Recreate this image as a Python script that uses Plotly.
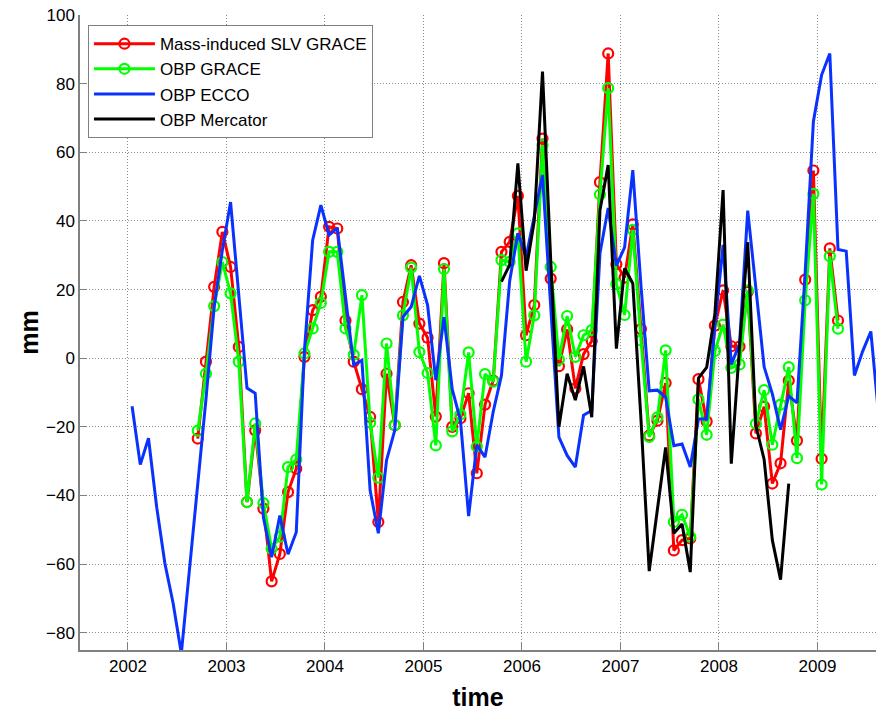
import plotly.graph_objects as go

# Monthly series (mm); month index 0 = Jan 2002, values at mid-month
ECCO_START = 0
obp_ecco = [
    -14, -31, -23.3, -43.4, -59.8, -71.4, -86, -62, -37, -12, 15, 31.5,
    45.5, 18, -8.7, -10.2, -46.4, -58, -45.8, -57.1, -50.7, 2.3, 34.4, 44.6,
    35.9, 37.9, 18, -2, -0.6, -38.5, -51, -29.7, -21, 12, 15, 24,
    15.5, -6.4, 12, -9, -18, -46, -25.2, -28.8, -15.5, -5, 22.5, 36.4,
    29.5, 42, 53.4, 15, -23, -28.3, -31.7, -16.6, -15.2, 30.6, 43.8, 27,
    32.3, 54.8, 21, -9.5, -9.3, -11.4, -25.5, -25, -31.7, -17.7, -17.7, 9.4,
    33, -1.8, 4.2, 43, 19.8, -2.5, -10.4, -20.8, -11, -13, 25, 69,
    82.5, 88.8, 31.7, 31.2, -5, 2, 7.8, -18,
]

GRACE_START = 8
slv_grace = [
    -23.4, -1, 20.8, 36.8,
    26.6, 3.3, -41.9, -21, -43.8, -65, -57, -39, -32.2, 0.4, 14, 17.9,
    38.3, 37.8, 11, -1, -9, -17.1, -47.7, -4.5, -19.5, 16.4, 27.1, 10.1,
    6, -17, 27.7, -20, -17.5, -10.2, -33.5, -13.5, -6.5, 31, 33.9, 47.3,
    6.7, 15.5, 64, 23.2, -2.3, 8.4, -8.8, 1.2, 5, 51.3, 88.8, 27.4,
    23.5, 39, 8.5, -22.5, -18.2, -7.2, -56, -53, -52.5, -6.1, -18.4, 9.5,
    19.8, 3.5, 3.4, 19.3, -21.9, -14.1, -36.5, -30.6, -6.5, -24, 22.9, 54.7,
    -29.3, 32, 11,
]
obp_grace = [
    -21.1, -4.5, 15.2, 28,
    18.9, -1, -41.9, -19, -42.2, -55.5, -52, -31.7, -29.5, 1.4, 8.7, 16.1,
    31, 31, 8.7, 1, 18.4, -18.8, -34.8, 4.3, -19.5, 12.5, 26.4, 1.8,
    -4.3, -25.4, 26, -21.3, -16.4, 1.7, -25.7, -4.6, -6.8, 28.6, 28.1, 36.4,
    -1, 12.5, 62.1, 26.6, -0.4, 12.3, 0.4, 6.7, 8.2, 47.7, 78.7, 21.6,
    12.6, 37.4, 5.2, -22.9, -17.2, 2.3, -47.7, -45.6, -52, -12, -22.3, 2.1,
    9.8, -2.8, -1.8, 19.8, -19.1, -9.3, -25.2, -13.5, -2.6, -29.1, 16.9, 47.9,
    -36.8, 29.7, 8.6,
]

MERCATOR_START = 45
obp_mercator = [
    22.3, 27.2, 56.8,
    25.5, 40, 83.5, 28.6, -20, -4.5, -12.2, -2.4, -17.2, 43.1, 56.3, 2.8,
    26.2, 21.8, -18, -62, -44, -26, -51, -48.3, -62.3, -5.8, -2.7, 13,
    49, -30.7, 3.2, 33.8, -19.7, -29.5, -53, -64.5, -36.5,
]

year_ticks = [2002, 2003, 2004, 2005, 2006, 2007, 2008, 2009]
mm_ticks = [-80, -60, -40, -20, 0, 20, 40, 60, 80, 100]


def months(start, values):
    return [2002 + (start + k + 0.5) / 12 for k in range(len(values))]


FONT = "Liberation Sans, Arial, Helvetica, sans-serif"
RED, GREEN, BLUE, BLACK = "#ff0000", "#00ff00", "#0a32ff", "#000000"

fig = go.Figure()
fig.add_trace(go.Scatter(
    x=months(GRACE_START, slv_grace), y=slv_grace, name="Mass-induced SLV GRACE",
    mode="lines+markers", line=dict(color=RED, width=3),
    marker=dict(symbol="circle-open", size=10, color=RED, line=dict(width=2.2, color=RED)),
))
fig.add_trace(go.Scatter(
    x=months(GRACE_START, obp_grace), y=obp_grace, name="OBP GRACE",
    mode="lines+markers", line=dict(color=GREEN, width=3),
    marker=dict(symbol="circle-open", size=10, color=GREEN, line=dict(width=2.2, color=GREEN)),
))
fig.add_trace(go.Scatter(
    x=months(ECCO_START, obp_ecco), y=obp_ecco, name="OBP ECCO",
    mode="lines", line=dict(color=BLUE, width=3),
))
fig.add_trace(go.Scatter(
    x=months(MERCATOR_START, obp_mercator), y=obp_mercator, name="OBP Mercator",
    mode="lines", line=dict(color=BLACK, width=3),
))

axis_common = dict(
    showgrid=True, gridcolor="#8c8c8c", griddash="1px,2px", gridwidth=1,
    showline=True, linecolor="#808080", linewidth=1.5,
    ticks="inside", ticklen=7, tickcolor="#808080", tickwidth=1,
    tickfont=dict(family=FONT, size=17, color="#000000"),
    zeroline=False,
)

fig.update_layout(
    width=876, height=711,
    margin=dict(l=80, r=0, t=15, b=61),
    paper_bgcolor="white", plot_bgcolor="white",
    font=dict(family=FONT, color="#000000"),
    xaxis=dict(
        range=[2001.513, 2009.594], tickvals=year_ticks,
        ticktext=[str(y) for y in year_ticks],
        title=dict(text="<b>time</b>", font=dict(family=FONT, size=25), standoff=14),
        **axis_common,
    ),
    yaxis=dict(
        range=[-85, 100], tickvals=mm_ticks,
        title=dict(text="<b>mm</b>", font=dict(family=FONT, size=25), standoff=0),
        **axis_common,
    ),
    legend=dict(
        x=0.01, y=0.984, xanchor="left", yanchor="top",
        bgcolor="white", bordercolor="#808080", borderwidth=1,
        font=dict(family=FONT, size=17, color="#000000"),
        itemwidth=61, tracegroupgap=0,
    ),
    showlegend=True,
)

fig.write_html("out.html")
